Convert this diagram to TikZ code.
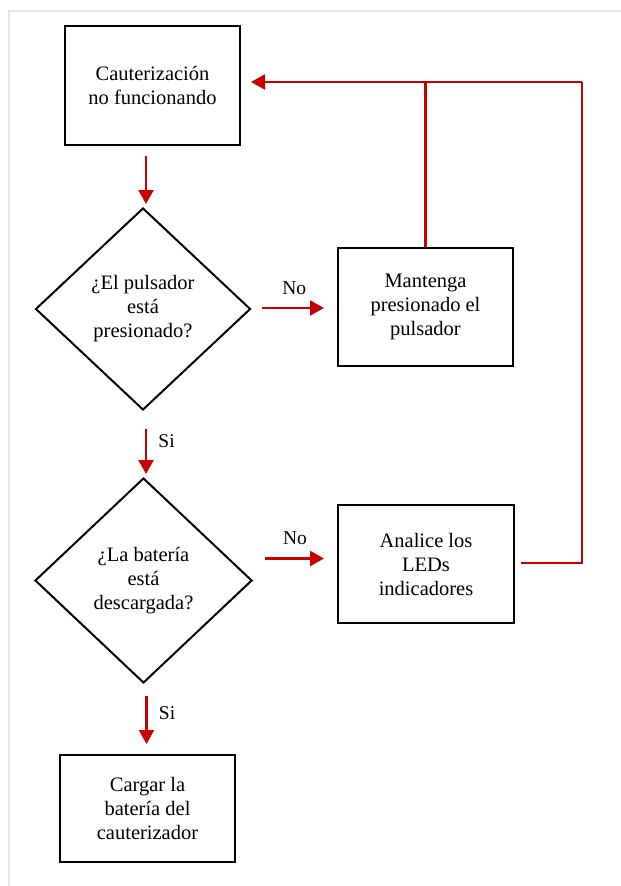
\documentclass[tikz,border=0pt]{standalone}
\usepackage{fontspec}
\setmainfont{Liberation Serif}
\usetikzlibrary{shapes.geometric,arrows.meta}
\definecolor{flowred}{RGB}{200,0,0}
\tikzset{
    box/.style={draw,line width=2pt,minimum width=175pt,align=center,inner sep=0pt},
    decision/.style={draw,line width=2pt,diamond,aspect=1.06,align=center,inner sep=0pt},
    arr/.style={draw=flowred,line width=2.2pt,-{Triangle[length=14pt,width=15pt]}},
    retline/.style={draw=flowred,line width=2.2pt},
    lbl/.style={font=\fontsize{19.5}{22}\selectfont}
}
\begin{document}
\begin{tikzpicture}[x=1pt,y=-1pt,font=\fontsize{20.5}{24}\selectfont]
    \useasboundingbox (0,0) rectangle (621,886);
    \draw[gray!20,line width=1.5pt] (9,886) -- (9,11) -- (621,11);
    % nodes
    \node[box,minimum height=119pt] (cauter) at (152.5,85.5) {Cauterización\\no funcionando};
    \node[decision,minimum width=215pt,minimum height=202pt] (pulsador) at (143,309) {¿El pulsador\\está\\presionado?};
    \node[box,minimum height=118pt] (mantenga) at (425.5,307) {Mantenga\\presionado el\\pulsador};
    \node[decision,minimum width=217pt,minimum height=205pt] (bateria) at (143.5,580.5) {¿La batería\\está\\descargada?};
    \node[box,minimum height=118pt,minimum width=176pt] (analice) at (426,564) {Analice los\\LEDs\\indicadores};
    \node[box,minimum height=107pt] (cargar) at (147.5,808.5) {Cargar la\\batería del\\cauterizador};
    \coordinate (retorno) at (425.5,82);
    \coordinate (esquina) at (582,82);
    % connectors
    \draw[arr,shorten <=10pt,shorten >=3pt] ([xshift=3pt]pulsador.north |- cauter.south) -- ([xshift=3pt]pulsador.north);
    \draw[arr,shorten <=10pt,shorten >=13pt] ([yshift=1pt]pulsador.east) -- ([yshift=1pt]pulsador.east -| mantenga.west)
        node[midway,above=9pt,lbl] {No};
    \draw[retline] (mantenga.north) -- (retorno);
    \draw[retline,shorten <=6pt] ([yshift=1pt]analice.east) -| (esquina);
    \draw[arr,shorten >=10pt] (esquina) -- (cauter.east |- esquina);
    \draw[arr,shorten <=18pt,shorten >=3pt] ([xshift=3pt]pulsador.south) -- ([xshift=3pt]pulsador.south |- bateria.north)
        node[pos=0.46,right=8pt,lbl] {Si};
    \draw[arr,shorten <=12pt,shorten >=13pt] ([yshift=22pt]bateria.east) -- ([yshift=22pt]bateria.east -| analice.west)
        node[midway,above=9pt,lbl] {No};
    \draw[arr,shorten <=12pt,shorten >=10pt] ([xshift=3pt]bateria.south) -- ([xshift=3pt]bateria.south |- cargar.north)
        node[pos=0.42,right=8pt,lbl] {Si};
\end{tikzpicture}
\end{document}
